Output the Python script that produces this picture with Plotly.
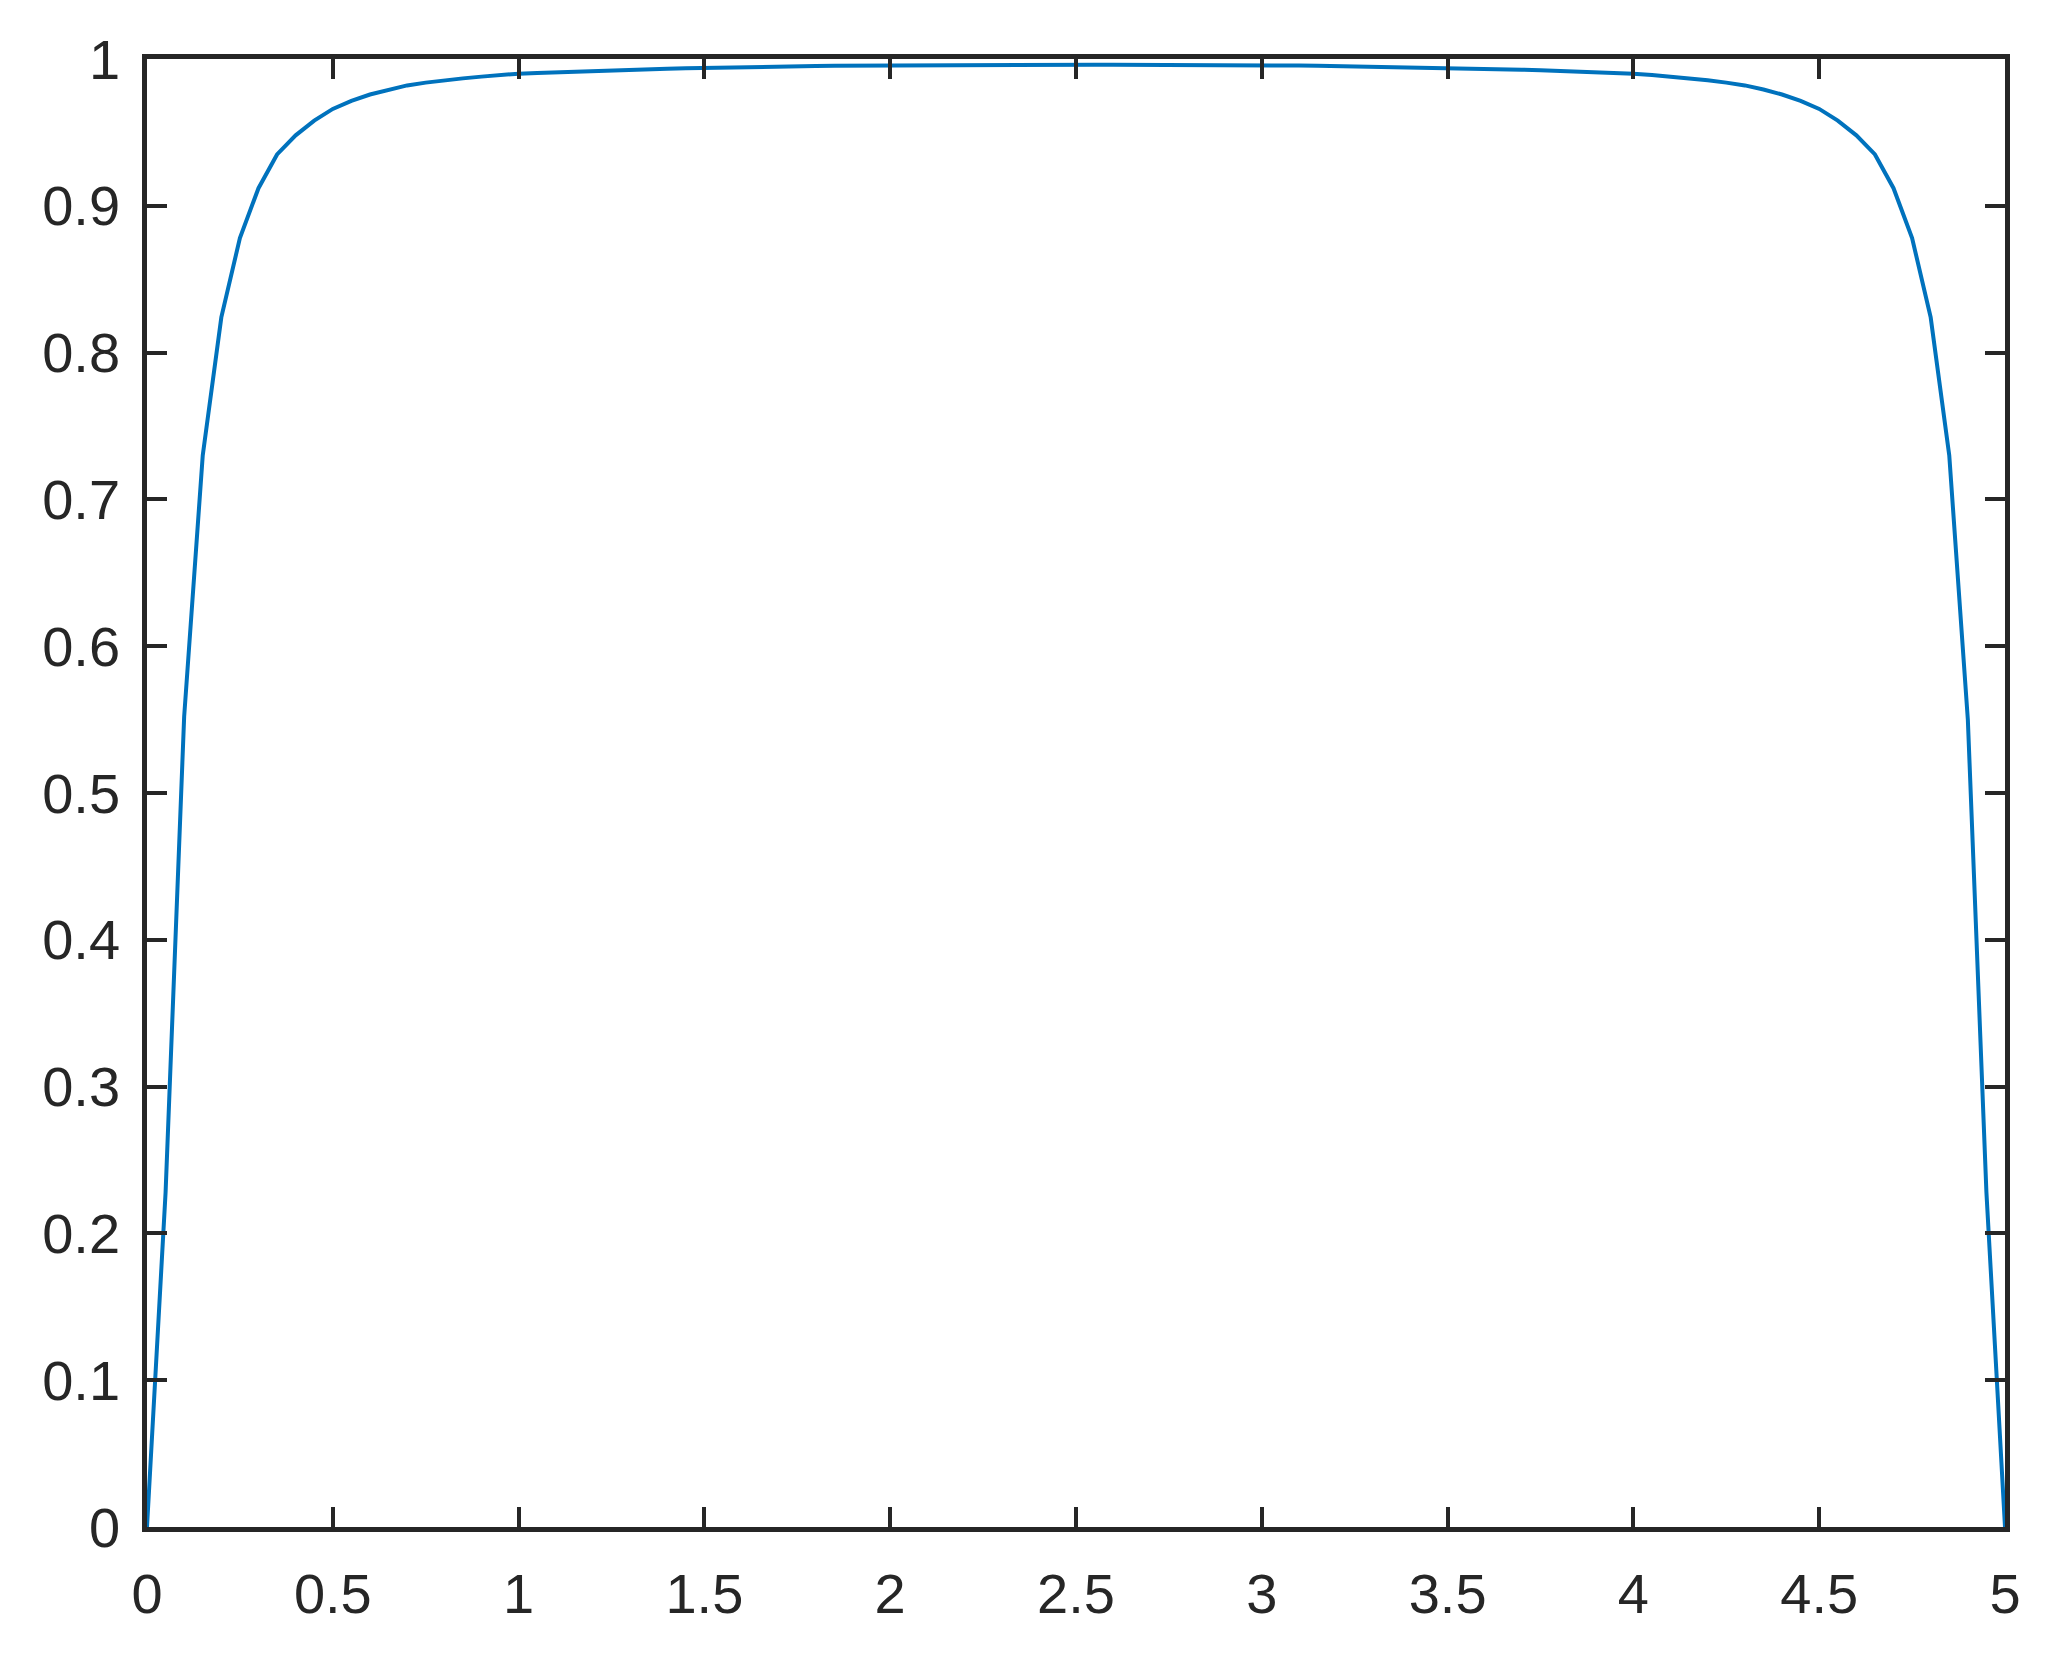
import plotly.graph_objects as go

x_values = [
    0.00, 0.05, 0.10, 0.15, 0.20, 0.25, 0.30, 0.35, 0.40, 0.45,
    0.50, 0.55, 0.60, 0.65, 0.70, 0.75, 0.80, 0.85, 0.90, 0.95,
    1.00, 1.05, 1.10, 1.15, 1.20, 1.25, 1.30, 1.35, 1.40, 1.45,
    1.50, 1.55, 1.60, 1.65, 1.70, 1.75, 1.80, 1.85, 1.90, 1.95,
    2.00, 2.05, 2.10, 2.15, 2.20, 2.25, 2.30, 2.35, 2.40, 2.45,
    2.50, 2.55, 2.60, 2.65, 2.70, 2.75, 2.80, 2.85, 2.90, 2.95,
    3.00, 3.05, 3.10, 3.15, 3.20, 3.25, 3.30, 3.35, 3.40, 3.45,
    3.50, 3.55, 3.60, 3.65, 3.70, 3.75, 3.80, 3.85, 3.90, 3.95,
    4.00, 4.05, 4.10, 4.15, 4.20, 4.25, 4.30, 4.35, 4.40, 4.45,
    4.50, 4.55, 4.60, 4.65, 4.70, 4.75, 4.80, 4.85, 4.90, 4.95,
    5.00,
]

y_values = [
    0.000, 0.228, 0.552, 0.730, 0.824, 0.878, 0.912, 0.935, 0.948, 0.958,
    0.966, 0.9715, 0.9758, 0.9792, 0.9820, 0.9839, 0.9855, 0.9868, 0.9880, 0.9891,
    0.9900, 0.9905, 0.9910, 0.9915, 0.9919, 0.9923, 0.9927, 0.9931, 0.9934, 0.9937,
    0.9940, 0.9943, 0.9945, 0.9947, 0.9949, 0.9951, 0.9952, 0.9954, 0.9955, 0.9956,
    0.9957, 0.9958, 0.9959, 0.9959, 0.9960, 0.9960, 0.9960, 0.9961, 0.9961, 0.9961,
    0.9961, 0.9961, 0.9961, 0.9961, 0.9960, 0.9960, 0.9960, 0.9959, 0.9959, 0.9958,
    0.9957, 0.9956, 0.9955, 0.9954, 0.9952, 0.9951, 0.9949, 0.9947, 0.9945, 0.9943,
    0.9940, 0.9937, 0.9934, 0.9931, 0.9927, 0.9923, 0.9919, 0.9915, 0.9910, 0.9905,
    0.9900, 0.9891, 0.9880, 0.9868, 0.9855, 0.9839, 0.9820, 0.9792, 0.9758, 0.9715,
    0.966, 0.958, 0.948, 0.935, 0.912, 0.878, 0.824, 0.730, 0.550, 0.228,
    0.000,
]

x_tick_values = [0, 0.5, 1, 1.5, 2, 2.5, 3, 3.5, 4, 4.5, 5]
x_tick_labels = ["0", "0.5", "1", "1.5", "2", "2.5", "3", "3.5", "4", "4.5", "5"]
y_tick_values = [0, 0.1, 0.2, 0.3, 0.4, 0.5, 0.6, 0.7, 0.8, 0.9, 1]
y_tick_labels = ["0", "0.1", "0.2", "0.3", "0.4", "0.5", "0.6", "0.7", "0.8", "0.9", "1"]

AX = "#262626"
FONT = dict(family="Liberation Sans, Arial, Helvetica, sans-serif", size=56, color=AX)

fig = go.Figure()
fig.add_trace(go.Scatter(
    x=x_values, y=y_values, mode="lines",
    line=dict(color="#0072BD", width=4),
    showlegend=False, hoverinfo="skip",
))

axis_common = dict(
    showline=True, linewidth=4.5, linecolor=AX,
    mirror="ticks", ticks="inside", ticklen=20, tickwidth=3.5, tickcolor=AX,
    showgrid=False, zeroline=False, tickfont=FONT,
)

fig.update_layout(
    width=2048, height=1659,
    margin=dict(l=139, r=51, t=51, b=140, pad=0),
    paper_bgcolor="white", plot_bgcolor="white",
    xaxis=dict(range=[0, 5], tickvals=x_tick_values, ticktext=x_tick_labels,
               ticklabelstandoff=14, **axis_common),
    yaxis=dict(range=[0, 1], tickvals=y_tick_values, ticktext=y_tick_labels,
               ticklabelstandoff=11, **axis_common),
)

fig.write_html("out.html")
